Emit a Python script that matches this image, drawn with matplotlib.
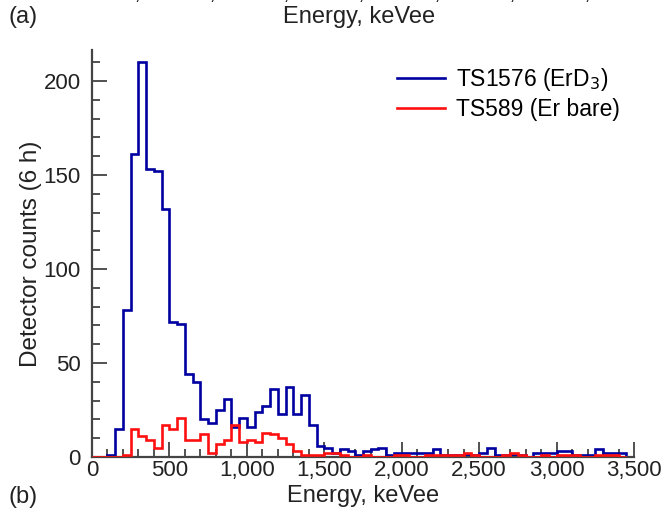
import numpy as np
import matplotlib
matplotlib.use("Agg")
import matplotlib.pyplot as plt
from matplotlib.ticker import MultipleLocator, FuncFormatter
from matplotlib.lines import Line2D

plt.rcParams['font.family'] = ['Liberation Sans', 'DejaVu Sans']

bin_width = 50
blue_counts = [0, 0, 1, 15, 78, 161, 210, 153, 152, 132,
               72, 71, 44, 40, 20, 18, 25, 31, 16, 21,
               16, 24, 27, 36, 23, 37, 23, 33, 17, 6,
               5, 2, 4, 3, 1, 3, 4, 5, 1, 2,
               2, 2, 2, 2, 4, 1, 1, 1, 1, 1,
               2, 5, 1, 1, 1, 1, 0, 2, 2, 2,
               3, 3, 1, 1, 1, 4, 2, 2, 2]
red_counts = [0, 0, 0, 0, 1, 15, 11, 9, 5, 17,
              15, 21, 9, 9, 12, 2, 7, 9, 17, 8,
              9, 8, 13, 12, 10, 7, 3, 1, 1, 1,
              2, 2, 1, 0, 0, 1, 0, 0, 0, 1,
              1, 0, 0, 1, 1, 1, 1, 1, 2, 1,
              0, 0, 0, 1, 2, 1, 0, 0, 1, 0,
              1, 1, 1, 0, 0, 1, 1, 1, 0]
edges = np.arange(len(blue_counts) + 1) * bin_width

blue_label = 'TS1576 (ErD$_3$)'
red_label = 'TS589 (Er bare)'
top_fragments = ['1,000', '1,500', '2,000', '2,500', '3,000', '3,500', '4,000']

blue_c = '#0000a0'
red_c = '#ff1010'
txt_c = '#222222'

fig = plt.figure(figsize=(6.63, 5.17), dpi=100)
ax = fig.add_axes([92/663, 1-457/517, (634-92)/663, (457-50)/517])

ax.stairs(red_counts, edges, baseline=0, color=red_c, lw=1.9, zorder=3)
ax.stairs(blue_counts, edges, baseline=0, color=blue_c, lw=1.9, zorder=2)

ax.set_xlim(0, 3500)
ax.set_ylim(0, 216.5)
for s in ['top', 'right']:
    ax.spines[s].set_visible(False)
for s in ['left', 'bottom']:
    ax.spines[s].set_color('#444444')
    ax.spines[s].set_linewidth(1.6)

ax.xaxis.set_major_locator(MultipleLocator(500))
ax.xaxis.set_minor_locator(MultipleLocator(100))
ax.yaxis.set_major_locator(MultipleLocator(50))
ax.yaxis.set_minor_locator(MultipleLocator(10))
ax.xaxis.set_major_formatter(FuncFormatter(lambda v, p: f'{int(v):,}'))
ax.tick_params(which='both', direction='in', color=txt_c, labelsize=16, width=1.1,
               labelcolor=txt_c)
ax.tick_params(which='major', length=11, pad=2)
ax.tick_params(which='minor', length=6)
ax.tick_params(axis='y', pad=8)

ax.set_xlabel('Energy, keVee', fontsize=17, labelpad=3, color=txt_c)
ax.set_ylabel('Detector counts (6 h)', fontsize=17.5, labelpad=1, color=txt_c)

handles = [Line2D([], [], color=blue_c, lw=1.9), Line2D([], [], color=red_c, lw=1.9)]
ax.legend(handles, [blue_label, red_label], loc='upper right',
          bbox_to_anchor=(1.0, 0.995), frameon=False, fontsize=16.5,
          handlelength=2.1, handletextpad=0.5, labelspacing=0.22,
          borderaxespad=0.2)

fig.text(8/663, 1-17/517, '(a)', fontsize=17, va='center', ha='left', color=txt_c)
fig.text(359/663, 1-17/517, 'Energy, keVee', fontsize=17, va='center', ha='center', color=txt_c)
fig.text(8/663, 1-497/517, '(b)', fontsize=17, va='center', ha='left', color=txt_c)
for i, lab in enumerate(top_fragments):
    fig.text((150 + 75*i)/663, 1 + 1.5/517, lab, fontsize=16, va='baseline',
             ha='center', color=txt_c)

fig.savefig('out.png', dpi=100)
